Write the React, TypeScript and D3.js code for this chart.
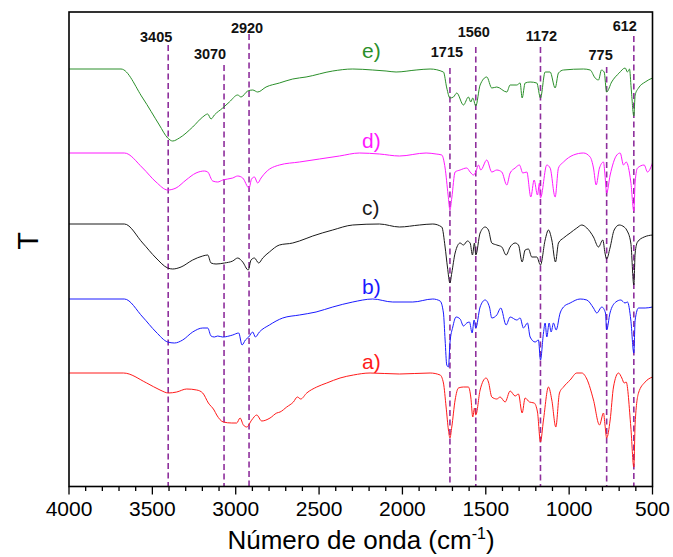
import React from "react";
import * as d3 from "d3";

type Pt = [number, number];

// wavenumber (cm-1), transmittance (arbitrary units, stacked)
const specE: Pt[] = [[4000,418],[3688,418],[3558,389],[3458,362],[3408,349],[3378,346],[3338,349],[3258,360],[3198,370],[3168,373],[3148,368],[3128,372],[3078,379],[3038,385],[2988,392],[2968,390],[2928,396],[2898,397],[2868,395],[2818,400],[2738,404],[2658,408],[2578,410],[2418,416],[2298,418],[2178,417],[2098,416],[2038,415],[1918,417],[1834,418],[1754,415],[1734,399],[1715,389],[1694,390],[1674,394],[1634,382],[1604,390],[1590,385],[1578,389],[1560,381],[1534,402],[1494,410],[1464,399],[1434,400],[1374,395],[1354,402],[1314,402],[1294,404],[1282,389],[1264,404],[1234,405],[1194,404],[1172,389],[1144,415],[1114,415],[1084,399],[1064,414],[1034,417],[914,418],[874,417],[844,409],[824,407],[806,417],[790,415],[775,395],[745,405],[700,414],[664,419],[650,415],[638,418],[628,399],[612,371],[604,392],[584,399],[544,405],[500,409]];

const specD: Pt[] = [[4000,334],[3668,334],[3558,319],[3478,305],[3408,297],[3358,299],[3298,307],[3238,314],[3188,316],[3168,315],[3138,306],[3108,305],[3078,307],[3018,309],[2988,311],[2958,309],[2920,299],[2905,308],[2888,310],[2868,304],[2848,309],[2818,315],[2738,322],[2618,325],[2498,328],[2378,331],[2258,334],[2138,333],[2018,331],[1858,334],[1798,333],[1764,332],[1744,319],[1726,292],[1715,277],[1704,289],[1684,315],[1654,317],[1614,319],[1594,315],[1574,312],[1560,315],[1544,322],[1530,317],[1494,327],[1464,315],[1434,317],[1404,315],[1374,302],[1354,314],[1324,319],[1298,322],[1278,314],[1254,315],[1230,290],[1210,307],[1190,292],[1178,304],[1172,289],[1134,322],[1114,319],[1084,290],[1064,319],[1034,325],[974,332],[914,334],[874,330],[854,319],[838,302],[818,319],[794,325],[785,312],[775,294],[754,312],[714,332],[694,334],[674,322],[658,325],[630,305],[612,276],[604,305],[590,319],[550,322],[530,315],[500,324]];

const specC: Pt[] = [[4000,263],[3668,263],[3558,244],[3478,229],[3408,219],[3378,218],[3328,220],[3258,227],[3198,231],[3168,232],[3148,224],[3118,223],[3068,224],[3018,226],[2988,229],[2958,225],[2925,217],[2908,227],[2888,229],[2862,224],[2838,229],[2798,235],[2738,242],[2658,244],[2618,246],[2538,251],[2418,257],[2298,262],[2138,263],[2018,260],[1898,262],[1818,263],[1764,260],[1744,240],[1730,220],[1715,204],[1704,214],[1684,234],[1654,244],[1634,242],[1610,246],[1594,244],[1580,232],[1568,244],[1560,232],[1534,254],[1504,260],[1484,257],[1464,244],[1434,242],[1404,240],[1378,232],[1354,240],[1324,244],[1304,242],[1282,225],[1264,237],[1244,238],[1224,230],[1194,230],[1172,222],[1144,247],[1124,257],[1104,247],[1082,225],[1064,244],[1034,249],[994,254],[954,259],[924,262],[894,259],[854,250],[824,240],[798,247],[785,234],[775,228],[755,239],[730,257],[700,262],[670,260],[655,257],[630,244],[612,202],[604,234],[590,245],[550,250],[500,252]];

const specB: Pt[] = [[4000,188],[3668,188],[3558,170],[3478,155],[3408,145],[3368,144],[3318,147],[3258,155],[3198,159],[3168,159],[3148,151],[3128,150],[3108,151],[3078,150],[3018,152],[2982,154],[2962,142],[2942,147],[2922,150],[2898,155],[2882,150],[2858,155],[2798,162],[2718,169],[2618,172],[2518,175],[2418,180],[2298,185],[2178,188],[2058,185],[1938,185],[1818,188],[1774,186],[1754,174],[1744,147],[1734,122],[1724,120],[1715,144],[1698,160],[1678,170],[1654,168],[1634,161],[1614,164],[1598,165],[1582,154],[1570,167],[1560,159],[1534,180],[1504,187],[1478,180],[1464,169],[1434,172],[1410,179],[1378,162],[1354,170],[1314,167],[1294,169],[1274,159],[1250,164],[1234,150],[1204,145],[1184,147],[1172,127],[1154,154],[1144,164],[1134,150],[1120,164],[1108,155],[1094,164],[1078,157],[1054,174],[1034,180],[994,184],[934,188],[894,187],[854,179],[834,174],[804,180],[782,174],[775,157],[755,174],[720,185],[690,187],[665,184],[650,185],[630,167],[612,134],[604,167],[584,179],[544,179],[500,180]];

const specA: Pt[] = [[4000,114],[3674,114],[3534,104],[3454,97],[3404,94],[3354,95],[3294,98],[3234,97],[3198,94],[3164,84],[3130,77],[3114,72],[3074,65],[3024,64],[2994,64],[2974,69],[2954,62],[2934,60],[2904,67],[2874,72],[2844,66],[2794,69],[2754,74],[2734,75],[2694,80],[2654,85],[2630,90],[2610,88],[2574,94],[2514,100],[2454,104],[2374,109],[2294,112],[2194,114],[2018,113],[1834,114],[1774,112],[1754,104],[1738,80],[1724,57],[1715,49],[1704,60],[1684,87],[1664,99],[1634,100],[1604,100],[1590,90],[1578,70],[1568,79],[1560,72],[1534,97],[1498,109],[1484,105],[1464,90],[1434,88],[1414,90],[1384,85],[1354,96],[1324,91],[1304,93],[1282,74],[1264,89],[1238,85],[1210,84],[1190,75],[1172,45],[1154,67],[1124,100],[1104,87],[1080,60],[1058,94],[1034,100],[994,107],[954,114],[924,114],[894,108],[854,87],[818,62],[794,74],[785,62],[775,49],[754,67],[734,100],[704,114],[684,109],[670,104],[658,105],[630,60],[612,20],[604,64],[584,94],[544,105],[500,110]];

const seriesNames = ["a)", "b)", "c)", "d)", "e)"];
const seriesData = [specA, specB, specC, specD, specE];
const seriesColors = ["#ff1a1a", "#1a1aff", "#1a1a1a", "#ff19ff", "#2a8f2a"];
const seriesLabelY = [369, 294, 215, 148, 58];

const peakValues = [3405, 3070, 2920, 1715, 1560, 1172, 775, 612];
const peakLabelDx = [-12, -14, -2, -3, -2, 1, -6, -9];
const peakLabelY = [42, 59, 33, 57, 37, 41, 60, 31];
const peakLineTop = [45, 65, 34, 68, 47, 47, 67, 36];

const xTicks = [4000, 3500, 3000, 2500, 2000, 1500, 1000, 500];

const W = 673, H = 557;
const left = 69, right = 652.5, top = 12, bottom = 486.5;

export default function App() {
  const x = d3.scaleLinear().domain([4000, 500]).range([left, right]);
  const y = d3.scaleLinear().domain([0, 475]).range([487, 12]);
  const line = d3.line<Pt>().x(d => x(d[0])).y(d => y(d[1])).curve(d3.curveMonotoneX);
  const minor = d3.range(500, 4001, 100);
  const font = "Arial, 'Liberation Sans', sans-serif";
  return (
    <svg width={W} height={H} style={{ position: "absolute", left: 0, top: 0, background: "#fff" }} fontFamily={font}>
      <rect x={0} y={0} width={W} height={H} fill="#fff" />
      {peakValues.map((p, i) => (
        <g key={p}>
          <line x1={x(p)} x2={x(p)} y1={peakLineTop[i]} y2={bottom} stroke="#8e2f9c" strokeWidth={1.6} strokeDasharray="6,3.5" />
          <text x={x(p) + peakLabelDx[i]} y={peakLabelY[i]} textAnchor="middle" fontSize={14.5} fontWeight="bold" fill="#111">{p}</text>
        </g>
      ))}
      {seriesData.map((s, i) => (
        <path key={i} d={line(s) || ""} fill="none" stroke={seriesColors[i]} strokeWidth={1} />
      ))}
      {seriesNames.map((n, i) => (
        <text key={n} x={362} y={seriesLabelY[i]} fontSize={21} fill={seriesColors[i]}>{n}</text>
      ))}
      <rect x={left} y={top} width={right - left} height={bottom - top} fill="none" stroke="#000" strokeWidth={1.6} />
      {minor.map(t => (
        <line key={t} x1={x(t)} x2={x(t)} y1={bottom} y2={bottom + (t % 500 === 0 ? 8 : 4.5)} stroke="#000" strokeWidth={1.3} />
      ))}
      {xTicks.map(t => (
        <text key={t} x={x(t)} y={516} textAnchor="middle" fontSize={21} fill="#000">{t}</text>
      ))}
      <text x={361} y={549} textAnchor="middle" fontSize={26} fill="#000">
        Número de onda (cm<tspan dy={-10} fontSize={16}>-1</tspan><tspan dy={10}>)</tspan>
      </text>
      <text transform="translate(38,241) rotate(-90)" textAnchor="middle" fontSize={29} fill="#000">T</text>
    </svg>
  );
}
